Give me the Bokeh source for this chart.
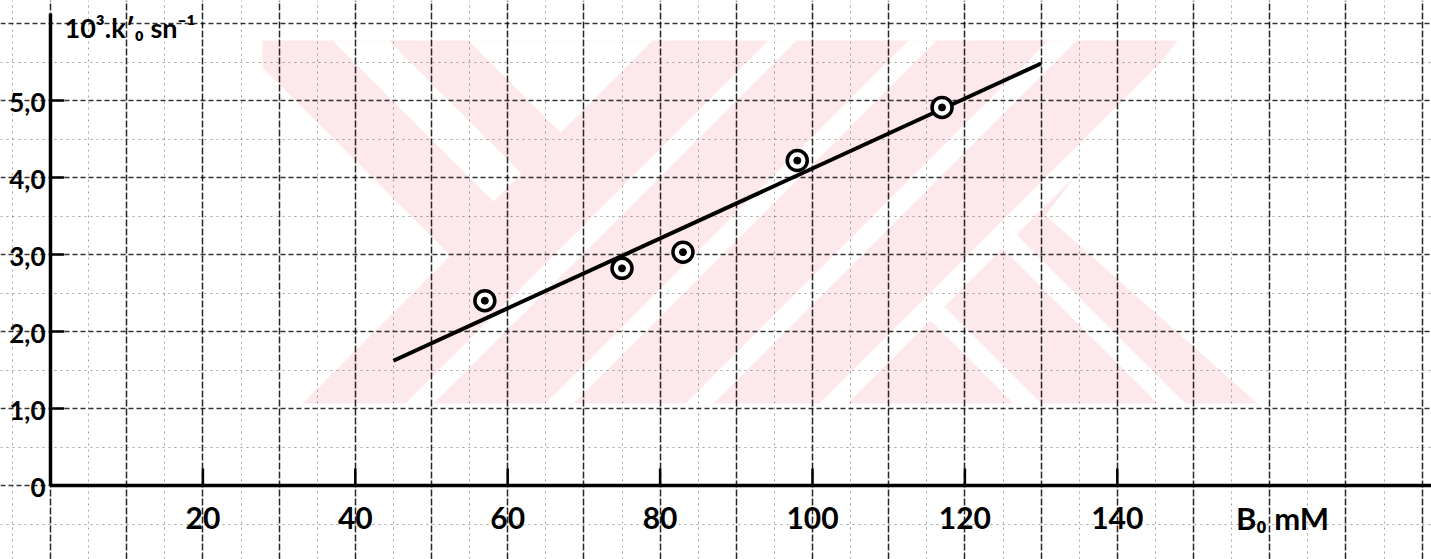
from bokeh.plotting import figure
from bokeh.models import Range1d, FixedTicker, Grid
from bokeh.core.properties import value
from bokeh.embed import file_html
from bokeh.resources import INLINE
import numpy as np

# ---------------- data ----------------
b0_mM = [57, 75, 83, 98, 117]
k0_1e3 = [2.40, 2.82, 3.03, 4.22, 4.91]
fit_x = [45, 130]
fit_y = [1.62, 5.48]

x_tick_values = [20, 40, 60, 80, 100, 120, 140]
x_tick_labels = ["20", "40", "60", "80", "100", "120", "140"]
y_tick_values = [0, 1, 2, 3, 4, 5]
y_tick_labels = ["0", "1,0", "2,0", "3,0", "4,0", "5,0"]
x_title = "B\u2080 mM"
y_title = "10\u00b3.k\u2032\u2080 sn\u207b\u00b9"

# ---------------- page / scale set-up ----------------
W, H = 1431, 559
X0_PX, X_PER_UNIT = 50.0, 7.62      # where x=0 sits, pixels per mM
Y0_PX, Y_PER_UNIT = 485.0, 77.0     # where y=0 sits, pixels per unit

def px2x(px):
    return (px - X0_PX) / X_PER_UNIT

def py2y(py):
    return (Y0_PX - py) / Y_PER_UNIT

p = figure(width=W, height=H,
           x_range=Range1d(px2x(0), px2x(W)), y_range=Range1d(py2y(H), py2y(0)),
           x_axis_location=None, y_axis_location=None,
           output_backend="svg", toolbar_location=None,
           min_border=0, outline_line_color=None,
           background_fill_color="white", border_fill_color="white")
p.xgrid.visible = False
p.ygrid.visible = False

# graph-paper grid
xg = Grid(dimension=0,
          ticker=FixedTicker(ticks=list(np.arange(-10, 200, 10)),
                             minor_ticks=list(np.arange(-5, 200, 10))),
          grid_line_color="black", grid_line_width=1.5, grid_line_dash="7 2",
          grid_line_alpha=0.85,
          minor_grid_line_color="#555555", minor_grid_line_width=1,
          minor_grid_line_dash="2 4", minor_grid_line_alpha=0.55)
yg = Grid(dimension=1,
          ticker=FixedTicker(ticks=list(np.arange(-1, 8, 1)),
                             minor_ticks=list(np.arange(-0.5, 8, 1))),
          grid_line_color="black", grid_line_width=1.5, grid_line_dash="5 3",
          grid_line_alpha=0.8,
          minor_grid_line_color="#555555", minor_grid_line_width=1,
          minor_grid_line_dash="2 4", minor_grid_line_alpha=0.55)
p.add_layout(xg)
p.add_layout(yg)

# ---------------- faint pink watermark (background decoration) ----------------
wm_pink = [[(262, 40), (1177, 40), (1045, 215), (1257, 403), (302, 403),
            (450, 255), (262, 67)]]
wm_white = [
    [(332, 40), (388, 40), (521, 173), (493, 201)],
    [(468, 40), (652, 40), (560, 132)],
    [(988, 234), (1016, 234), (1185, 403), (1157, 403)],
    [(917, 307), (945, 307), (1041, 403), (1013, 403)],
]
for c in (808, 948, 1088, 1222):
    wm_white.append([(c - 40, 40), (c + 28 - 40, 40), (c + 28 - 403, 403), (c - 403, 403)])

def to_data(polys):
    return ([[px2x(a) for a, b in poly] for poly in polys],
            [[py2y(b) for a, b in poly] for poly in polys])

pxs, pys = to_data(wm_pink)
p.patches(pxs, pys, fill_color="#fde8eb", line_color=None, level="image")
wxs, wys = to_data(wm_white)
p.patches(wxs, wys, fill_color="white", line_color=None, level="image")

# ---------------- axes drawn on the paper ----------------
y_axis_top = py2y(13)
p.line([0, 0], [0, y_axis_top], line_color="black", line_width=3.5)
p.line([0, px2x(W)], [0, 0], line_color="black", line_width=3.5)
p.segment(x0=x_tick_values, y0=[0] * len(x_tick_values),
          x1=x_tick_values, y1=[0.22] * len(x_tick_values),
          line_color="black", line_width=2.5)
p.segment(x0=[0] * 5, y0=y_tick_values[1:], x1=[1.8] * 5, y1=y_tick_values[1:],
          line_color="black", line_width=2.5)

# ---------------- fitted line and measured points ----------------
p.line(fit_x, fit_y, line_color="black", line_width=4)
p.scatter(b0_mM, k0_1e3, marker="circle", size=20, fill_color="white",
          line_color="black", line_width=3.5)
p.scatter(b0_mM, k0_1e3, marker="circle", size=7, fill_color="black",
          line_color="black")

# ---------------- lettering ----------------
font = value("Lato")
label_y = py2y(517)
p.text(x=x_tick_values, y=[label_y] * len(x_tick_values), text=x_tick_labels,
       text_align="center", text_baseline="middle", text_font=font,
       text_font_style="bold", text_font_size="30px", text_color="black")
p.text(x=[px2x(45)] * len(y_tick_values), y=y_tick_values, text=y_tick_labels,
       text_align="right", text_baseline="middle", text_font=font,
       text_font_style="bold", text_font_size="26px", text_color="black",
       y_offset=2)
p.text(x=[px2x(1282)], y=[label_y], text=[x_title], text_align="center",
       text_baseline="middle", text_font=font, text_font_style="bold",
       text_font_size="31px", text_color="black")
p.text(x=[px2x(64)], y=[py2y(27)], text=[y_title], text_align="left",
       text_baseline="middle", text_font=font, text_font_style="bold",
       text_font_size="27px", text_color="black")

open("out.html", "w").write(file_html(p, INLINE))
